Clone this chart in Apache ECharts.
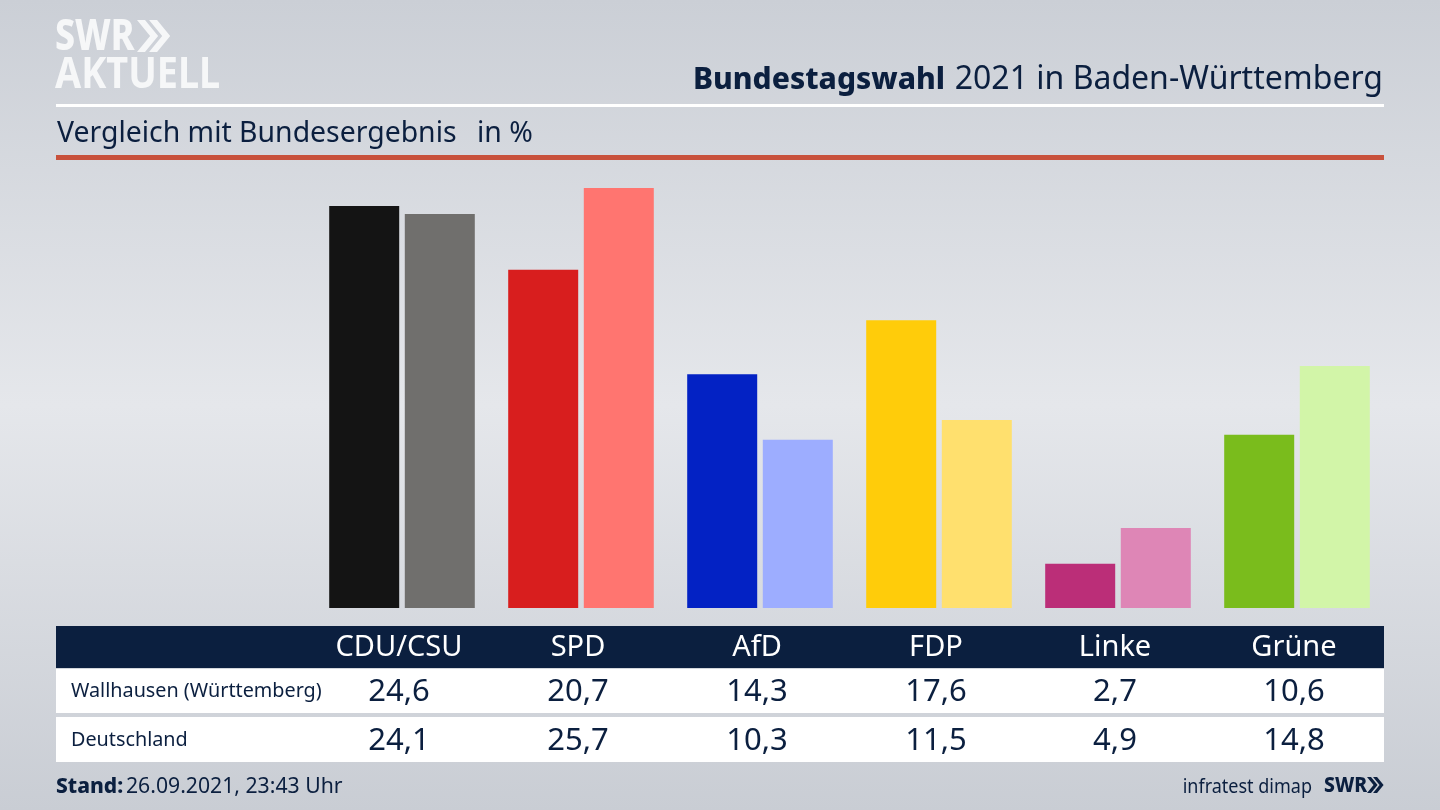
<!DOCTYPE html>
<html lang="de">
<head>
<meta charset="UTF-8">
<title>Bundestagswahl 2021</title>
<script src="https://cdn.jsdelivr.net/npm/echarts@6/dist/echarts.min.js"></script>
<style>
html, body { margin: 0; padding: 0; }
#main { width: 1440px; height: 810px; }
</style>
</head>
<body>
<div id="main"></div>
<script>
var parties = ['CDU/CSU', 'SPD', 'AfD', 'FDP', 'Linke', 'Grüne'];
var wallhausen = [24.6, 20.7, 14.3, 17.6, 2.7, 10.6];
var deutschland = [24.1, 25.7, 10.3, 11.5, 4.9, 14.8];
var coloursLocal = ['#141414', '#d81e1e', '#0322c4', '#ffcc0a', '#bb2e78', '#7abc1c'];
var coloursNation = ['#706f6d', '#ff7570', '#9dadff', '#ffe06e', '#de86b6', '#d2f5a8'];

var font = '"Noto Sans", sans-serif';
var navy = '#0b1f3f';

function de(v) { return v.toFixed(1).replace('.', ','); }

function barData(values, colours) {
    return values.map(function (v, i) {
        return { value: v, itemStyle: { color: colours[i] } };
    });
}

// table rows are extra category axes on the same grid, pushed down with margin
function rowAxis(labels, margin, size, colour) {
    return {
        type: 'category',
        position: 'bottom',
        data: labels,
        axisLine: { show: false },
        axisTick: { show: false },
        axisLabel: {
            interval: 0,
            margin: margin,
            fontFamily: font,
            fontSize: size,
            color: colour,
            verticalAlign: 'middle',
            padding: [0, 6, 0, 0]
        }
    };
}

function rect(x, y, w, h, fill) {
    return { type: 'rect', z: 0, silent: true, shape: { x: x, y: y, width: w, height: h }, style: { fill: fill } };
}

function text(x, y, t, size, weight, fill, align, sx) {
    return {
        type: 'text', z: 10, silent: true, x: x, y: y, scaleX: sx || 1,
        style: { text: t, font: weight + ' ' + size + 'px ' + font, fill: fill, textAlign: align || 'left', textVerticalAlign: 'middle' }
    };
}

function chevrons(x, y, h, fill) {
    var w = h * 0.41, t = h * 0.25, out = [];
    [0, w * 0.92].forEach(function (dx) {
        out.push({
            type: 'polygon', z: 10, silent: true,
            shape: { points: [[x + dx, y], [x + dx + t, y], [x + dx + t + w, y + h / 2], [x + dx + t, y + h], [x + dx, y + h], [x + dx + w, y + h / 2]] },
            style: { fill: fill }
        });
    });
    return out;
}

var myChart = echarts.init(document.getElementById('main'));

myChart.setOption({
    animation: false,
    backgroundColor: {
        type: 'linear', x: 0, y: 0, x2: 0, y2: 1,
        colorStops: [
            { offset: 0, color: '#cbcfd6' },
            { offset: 0.5, color: '#e5e7eb' },
            { offset: 1, color: '#c9cdd4' }
        ]
    },
    grid: { left: 312.5, top: 183, width: 1074, height: 425 },
    xAxis: [
        rowAxis(parties, 40, 29, '#ffffff'),
        rowAxis(wallhausen.map(de), 84, 31, navy),
        rowAxis(deutschland.map(de), 133, 31, navy)
    ],
    yAxis: { type: 'value', min: 0, max: 26, show: false },
    series: [
        { type: 'bar', barWidth: 70, barGap: '8%', data: barData(wallhausen, coloursLocal) },
        { type: 'bar', barWidth: 70, barGap: '8%', data: barData(deutschland, coloursNation) }
    ],
    graphic: [
        rect(56, 104, 1328, 3, '#ffffff'),
        rect(56, 155, 1328, 5, '#c8513c'),
        rect(56, 626, 1328, 42, navy),
        rect(56, 669, 1328, 44, '#ffffff'),
        rect(56, 717, 1328, 45, '#ffffff'),
        text(55, 38, 'SWR', 43, 800, '#f6f7f8', 'left', 0.83),
        text(55, 76, 'AKTUELL', 43, 700, '#f6f7f8', 'left', 0.88),
        text(693, 80, 'Bundestagswahl', 30, 800, navy),
        text(1383, 80, '2021 in Baden-Württemberg', 32, 400, navy, 'right'),
        text(57, 134, 'Vergleich mit Bundesergebnis', 28.4, 400, navy),
        text(477, 134, 'in %', 28.4, 400, navy),
        text(71, 691, 'Wallhausen (Württemberg)', 19.8, 400, navy),
        text(71, 740, 'Deutschland', 19.8, 400, navy),
        text(56, 787, 'Stand:', 21, 800, navy),
        text(126, 787, '26.09.2021, 23:43 Uhr', 21.2, 400, navy),
        text(1312, 787, 'infratest dimap', 20, 400, navy, 'right', 0.9),
        text(1324, 786, 'SWR', 21, 800, navy, 'left', 0.92)
    ].concat(chevrons(137, 20, 32, '#f6f7f8'), chevrons(1367, 777, 16, navy))
});
</script>
</body>
</html>
